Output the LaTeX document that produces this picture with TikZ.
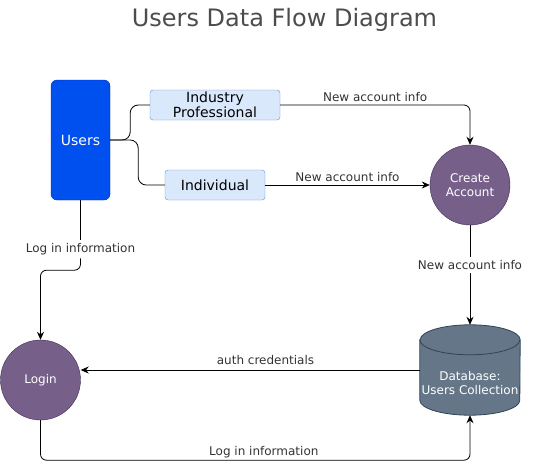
\documentclass[tikz,border=0pt]{standalone}
\usepackage{fontspec}
\setmainfont{DejaVu Sans}
\usetikzlibrary{arrows.meta,backgrounds}

\definecolor{usersfill}{HTML}{0050EF}
\definecolor{usersline}{HTML}{001DBC}
\definecolor{kindfill}{HTML}{DAE8FC}
\definecolor{kindline}{HTML}{6C8EBF}
\definecolor{procfill}{HTML}{76608A}
\definecolor{procline}{HTML}{432D57}
\definecolor{dbfill}{HTML}{647687}
\definecolor{dbline}{HTML}{314354}
\definecolor{labeltext}{HTML}{333333}

\begin{document}
\begin{tikzpicture}[x=1pt, y=-1pt,
        kind/.style={fill=kindfill, draw=kindline, rounded corners=3pt, inner sep=0pt,
            minimum height=30pt, align=center, font=\fontsize{14}{15}\selectfont},
        process/.style={circle, fill=procfill, draw=procline, minimum size=80pt, inner sep=0pt,
            align=center, text=white, font=\fontsize{12}{14}\selectfont},
        link/.style={black, line width=0.8pt, rounded corners=8pt},
        flow/.style={black, line width=0.8pt, rounded corners=6pt, -{Stealth[length=8pt, width=7pt]}},
        flowlabel/.style={text=labeltext, font=\fontsize{12}{14}\selectfont}]

    \useasboundingbox (0,0) rectangle (546,469);

    \node[text=black!70, font=\fontsize{24}{28}\selectfont] (title) at (284.5,20) {Users Data Flow Diagram};

    \node[fill=usersfill, draw=usersline, rounded corners=6pt, minimum width=59pt, minimum height=120pt,
        inner sep=0pt, text=white, font=\fontsize{14}{16}\selectfont] (users) at (80.5,140) {Users};
    \node[kind, minimum width=130pt] (indpro) at (215,105) {Industry\\Professional};
    \node[kind, minimum width=100pt] (indiv) at (215,185) {Individual};

    \node[process] (create) at (470,185) {Create\\Account};
    \node[process] (login) at (40.5,380) {Login};
    \node[minimum width=100pt, minimum height=90pt, inner sep=0pt,
        label={[align=center, text=white, font=\fontsize{12}{14}\selectfont, yshift=-13pt]center:Database:\\Users Collection}]
        (db) at (470,370) {};

    % database cylinder
    \begin{scope}[on background layer]
        \filldraw[fill=dbfill, draw=dbline, line width=0.8pt] ([yshift=-15pt]db.north west) -- ([yshift=15pt]db.south west)
            arc[start angle=180, end angle=360, x radius=50pt, y radius=15pt] -- ([yshift=-15pt]db.north east)
            arc[start angle=0, end angle=180, x radius=50pt, y radius=15pt] -- cycle;
        \draw[dbline, line width=0.8pt] ([yshift=-15pt]db.north west) arc[start angle=180, end angle=360, x radius=50pt, y radius=15pt];
    \end{scope}

    \draw[link] (users.east) -- ++(20,0) |- (indpro.west);
    \draw[link] (users.east) -- ++(28,0) |- (indiv.west);

    \draw[flow] (indpro.east) -| (create.north) node[flowlabel, pos=0.25, above] {New account info};
    \draw[flow] (indiv.east) -- (create.west) node[flowlabel, midway, above] {New account info};
    \draw[flow] (create.south) -- (db.north) node[flowlabel, pos=0.4, fill=white] {New account info};
    \draw[flow] (db.west) -- (db.west -| login.east) node[flowlabel, pos=0.455, above, yshift=2pt] {auth credentials};
    \draw[flow] (users.south) -- node[flowlabel, pos=0.7, fill=white] {Log in information} ++(0,70) -| (login.north);
    \draw[flow] (login.south) -- ++(0,40) -| (db.south) node[flowlabel, pos=0.26, above, yshift=-2pt] {Log in information};

\end{tikzpicture}
\end{document}
